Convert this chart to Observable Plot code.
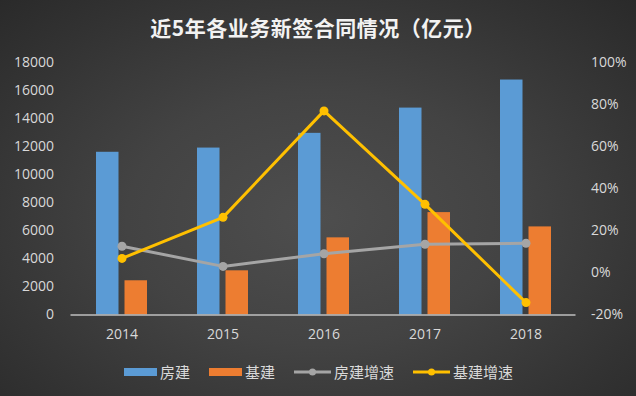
<!DOCTYPE html>
<html><head><meta charset="utf-8">
<script src="https://cdn.jsdelivr.net/npm/d3@7"></script>
<script src="https://cdn.jsdelivr.net/npm/@observablehq/plot@0.6"></script>
<style>
body{margin:0;background:#2a2a2a;}
#wrap{width:636px;height:396px;position:relative;overflow:hidden;
  background:radial-gradient(ellipse 75% 80% at 50% 55%, #4e4e4e 0%, #434343 40%, #333333 75%, #282828 100%);
  font-family:"Noto Sans CJK SC","Noto Sans",sans-serif;}
#title{position:absolute;left:0;top:0;width:636px;height:54px;line-height:54px;text-align:center;color:#f2f2f2;font-size:21px;font-weight:bold;letter-spacing:0.5px;}
#chart{position:absolute;left:0;top:50px;}
#legend{position:absolute;left:124px;top:361px;display:flex;align-items:center;color:#d9d9d9;font-size:15px;line-height:22px;}
.item{display:flex;align-items:center;margin-right:19px;}
.item span{margin-left:3px;}
</style></head>
<body><div id="wrap"><div id="title">近5年各业务新签合同情况（亿元）</div><div id="chart"></div><div id="legend"></div></div>
<script>
const years = ["2014", "2015", "2016", "2017", "2018"];
const housing = [11600, 11900, 12950, 14750, 16750];
const infra = [2440, 3150, 5500, 7300, 6280];
const housingGrowth = [12.7, 3.1, 9.1, 13.6, 14.1];
const infraGrowth = [6.9, 26.4, 77.0, 32.6, -14.1];
const leftTicks = [0, 2000, 4000, 6000, 8000, 10000, 12000, 14000, 16000, 18000];
const rightTicks = [-20, 0, 20, 40, 60, 80, 100];
const seriesNames = ["房建", "基建", "房建增速", "基建增速"];
const colors = ["#5b9bd5", "#ed7d31", "#a5a5a5", "#ffc000"];

// right axis (%) mapped onto the left scale domain [0, 18000] <-> [-20%, 100%]
const toLeft = p => (p + 20) / 120 * 18000;
const fromLeft = v => Math.round(v / 150 - 20);

const data = years.map((y, i) => ({
  year: y, housing: housing[i], infra: infra[i],
  hg: toLeft(housingGrowth[i]), ig: toLeft(infraGrowth[i])
}));

const plot = Plot.plot({
  width: 636, height: 300,
  marginTop: 12, marginBottom: 35.5, marginLeft: 70.5, marginRight: 60.5,
  style: {background: "transparent", color: "#d9d9d9", fontFamily: "'Open Sans','Noto Sans',sans-serif", fontSize: "14px"},
  x: {domain: years, padding: 0},
  y: {domain: [0, 18000]},
  marks: [
    Plot.axisY({ticks: leftTicks, tickSize: 0, tickPadding: 17, tickFormat: d => String(d), label: null, fill: "#d9d9d9", fontSize: 14}),
    Plot.axisY({anchor: "right", ticks: rightTicks.map(toLeft), tickSize: 0, tickPadding: 15, tickFormat: d => fromLeft(d) + "%", label: null, fill: "#d9d9d9", fontSize: 14}),
    Plot.axisX({tickSize: 0, tickPadding: 14, label: null, fill: "#d9d9d9", fontSize: 14}),
    Plot.barY(data, {x: "year", y: "housing", fill: colors[0], insetLeft: 25, insetRight: 53.5}),
    Plot.barY(data, {x: "year", y: "infra", fill: colors[1], insetLeft: 53.5, insetRight: 25}),
    Plot.ruleY([0], {stroke: "#bfbfbf", strokeWidth: 1.5}),
    Plot.line(data, {x: "year", y: "hg", stroke: colors[2], strokeWidth: 3}),
    Plot.dot(data, {x: "year", y: "hg", fill: colors[2], r: 4.5}),
    Plot.line(data, {x: "year", y: "ig", stroke: colors[3], strokeWidth: 3}),
    Plot.dot(data, {x: "year", y: "ig", fill: colors[3], r: 4.5})
  ]
});
document.getElementById("chart").appendChild(plot);

const legend = document.getElementById("legend");
seriesNames.forEach((name, i) => {
  const item = document.createElement("div");
  item.className = "item";
  const isLine = i >= 2;
  const svg = isLine
    ? `<svg width="37" height="10"><line x1="0" y1="5" x2="37" y2="5" stroke="${colors[i]}" stroke-width="3"/><circle cx="18.5" cy="5" r="3.5" fill="${colors[i]}"/></svg>`
    : `<svg width="33" height="10"><rect x="0" y="1" width="33" height="8" fill="${colors[i]}"/></svg>`;
  item.innerHTML = svg + `<span>${name}</span>`;
  legend.appendChild(item);
});
</script>
</body></html>
